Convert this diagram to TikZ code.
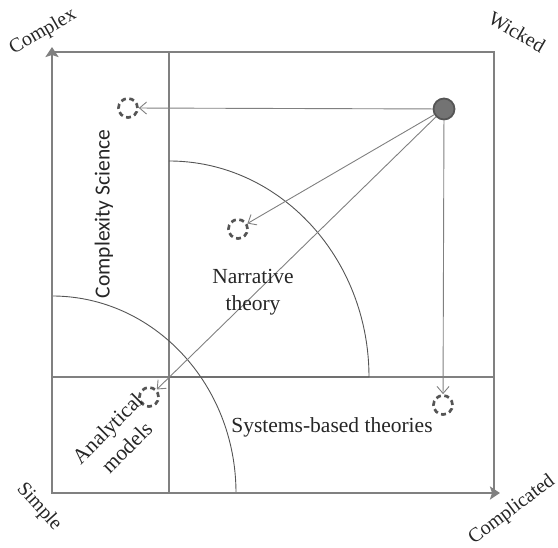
\documentclass[tikz,border=0pt]{standalone}
\usepackage{fontspec}
\setmainfont{Liberation Serif}
\newfontfamily\calibrifont{Carlito}
\usetikzlibrary{arrows.meta, positioning, calc}
\definecolor{cline}{HTML}{808080}
\definecolor{cdark}{HTML}{555555}
\definecolor{ctext}{HTML}{262626}
\tikzset{
  every picture/.style={x=1pt, y=1pt, line width=0.9pt},
  axis/.style={draw=cline, line width=2.6pt, {Stealth[length=10pt, width=13pt, inset=2pt]}-{Stealth[length=10pt, width=13pt, inset=2pt]}},
  gridline/.style={draw=cline, line width=1.1pt},
  zone/.style={draw=cdark, line width=0.9pt},
  link/.style={draw=cline, line width=0.9pt, -{Straight Barb[length=7pt, width=12pt]}},
  spot/.style={circle, draw=cdark, dash pattern=on 5pt off 3.5pt, line width=2.7pt, minimum size=19pt, inner sep=0pt},
  source/.style={circle, draw=cdark, fill=cline!90!black, line width=1.8pt, minimum size=21pt, inner sep=0pt},
  lab/.style={font=\fontsize{21.5}{27}\selectfont, text=ctext, align=center},
  corner/.style={font=\fontsize{20}{24}\selectfont, text=ctext},
}
\begin{document}
\begin{tikzpicture}
  \useasboundingbox (0,0) rectangle (558,548);
  % frame and quadrants
  \coordinate (O) at (52,55);
  \coordinate (ytip) at (52,501);
  \coordinate (xtip) at (500,55);
  \coordinate (tl) at (52,496);
  \coordinate (tr) at (494,496);
  \coordinate (br) at (494,55);
  \draw[gridline] (tl) -- (tr) -- (br);
  \draw[gridline] (169,496) -- (169,55);
  \draw[gridline] (52,171) -- (494,171);
  % zones
  \draw[zone] (169,171) -- (369,171) arc[start angle=0, end angle=90, x radius=200, y radius=216];
  \draw[zone] (236,55) arc[start angle=0, end angle=90, x radius=184, y radius=197];
  \draw[axis] (ytip) -- (O) -- (xtip);
  % problem positions
  \node[source] (now) at (444,439) {};
  \node[spot] (cs) at (128,440) {};
  \node[spot] (nt) at (238,319) {};
  \node[spot] (am) at (149,151) {};
  \node[spot] (sb) at (443,143) {};
  \foreach \t in {cs, nt, am, sb} \draw[link] (now) -- (\t);
  % labels
  \node[lab, font=\calibrifont\fontsize{21.5}{26}\selectfont, rotate=90] (lcs) at (104,334) {Complexity Science};
  \node[lab] (lnt) at (253,256) {Narrative\\theory};
  \node[lab, rotate=45] (lam) at (117,110) {Analytical\\models};
  \node[lab, anchor=base] (lsb) at (332,115) {Systems-based theories};
  \node[corner, rotate=30] (cx) at (43,516) {Complex};
  \node[corner, rotate=-30] (wk) at (517,516) {Wicked};
  \node[corner, rotate=-48] (sm) at (39,41) {Simple};
  \node[corner, rotate=37] (cp) at (512,38) {Complicated};
\end{tikzpicture}
\end{document}
